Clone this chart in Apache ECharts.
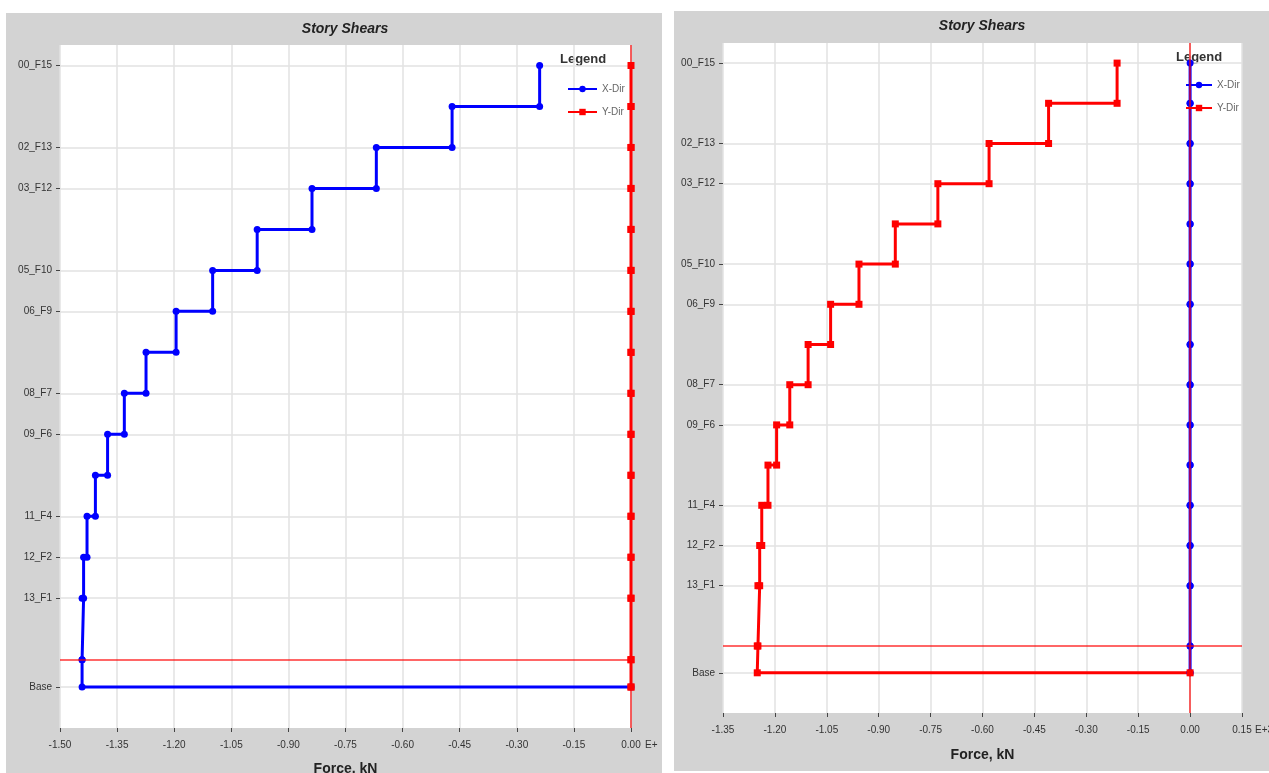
<!DOCTYPE html>
<html><head><meta charset="utf-8">
<script src="https://cdn.jsdelivr.net/npm/echarts@6/dist/echarts.min.js"></script>
<style>
html,body{margin:0;padding:0;background:#fff;width:1269px;height:773px;overflow:hidden}
#chart{position:absolute;left:0;top:0;width:1269px;height:773px}
.panel{position:absolute;background:#d3d3d3}
</style></head><body>
<div class="panel" style="left:6px;top:13px;width:656px;height:760px"></div>
<div class="panel" style="left:674px;top:11px;width:595px;height:760px"></div>
<div id="chart"></div>
<script>
// Story levels (top to bottom) and their elevations (m)
const levelLabels = ['00_F15','','02_F13','03_F12','','05_F10','06_F9','','08_F7','09_F6','','11_F4','12_F2','13_F1','','Base'];
const levelElevations = [45.5,42.5,39.5,36.5,33.5,30.5,27.5,24.5,21.5,18.5,15.5,12.5,9.5,6.5,2.0,0];
const referenceLevelElevation = 2.0;
const baseShear = 0;

// Story shears (E+3 kN), one value per story from top
const leftXDir = [-0.240,-0.470,-0.669,-0.838,-0.982,-1.099,-1.195,-1.274,-1.331,-1.375,-1.407,-1.429,-1.438,-1.442,-1.442];
const leftYDir = [0,0,0,0,0,0,0,0,0,0,0,0,0,0,0];
const rightXDir = [0,0,0,0,0,0,0,0,0,0,0,0,0,0,0];
const rightYDir = [-0.211,-0.409,-0.581,-0.729,-0.852,-0.957,-1.039,-1.104,-1.157,-1.195,-1.220,-1.238,-1.244,-1.249,-1.251];

// Force axis ranges: [min, max, interval]
const leftForceAxis = [-1.50, 0.00, 0.15];
const rightForceAxis = [-1.35, 0.15, 0.15];
const elevationAxis = [-3, 47];

const FONT = 'Liberation Sans, Arial, sans-serif';

function stepData(vals) {
  const out = [];
  for (let i = 0; i < vals.length; i++) {
    out.push([vals[i], levelElevations[i]]);
    out.push([vals[i], levelElevations[i + 1]]);
  }
  out.push([baseShear, levelElevations[levelElevations.length - 1]]);
  return out;
}
const labeledElev = levelElevations.filter((e, i) => levelLabels[i] !== '');
function yLabel(v) {
  const i = levelElevations.findIndex(e => Math.abs(e - v) < 1e-6);
  return i >= 0 ? levelLabels[i] : '';
}
function xLabel(v) {
  return Math.abs(v) < 1e-9 ? '0.00' : v.toFixed(2);
}

const grids = [
  {left: 60, top: 45, width: 571, height: 683, show: true, backgroundColor: '#fff', borderWidth: 0, containLabel: false, outerBoundsMode: 'none'},
  {left: 723, top: 43, width: 519, height: 670, show: true, backgroundColor: '#fff', borderWidth: 0, containLabel: false, outerBoundsMode: 'none'}
];

function xAxisOpt(idx, rng, gap) {
  return {
    type: 'value', gridIndex: idx, min: rng[0], max: rng[1], interval: rng[2],
    name: 'Force, kN', nameLocation: 'middle', nameGap: gap,
    nameTextStyle: {fontFamily: FONT, fontSize: 14, fontWeight: 'bold', color: '#222'},
    axisLine: {show: false, onZero: false},
    axisTick: {show: true, length: 4, lineStyle: {color: '#444'}},
    axisLabel: {fontFamily: FONT, fontSize: 10, color: '#333', margin: 12, formatter: xLabel, showMinLabel: true, showMaxLabel: true},
    splitLine: {show: true, lineStyle: {color: '#e2e2e2', width: 1.5}}
  };
}
function yAxisOpt(idx) {
  return {
    type: 'value', gridIndex: idx, min: elevationAxis[0], max: elevationAxis[1],
    axisLine: {show: false, onZero: false},
    axisTick: {show: true, length: 4, lineStyle: {color: '#444'}, customValues: labeledElev},
    axisLabel: {fontFamily: FONT, fontSize: 10, color: '#333', margin: 8, customValues: labeledElev, formatter: yLabel},
    splitLine: {show: true, lineStyle: {color: '#e2e2e2', width: 1.5}}
  };
}

function refSeries(idx) {
  return {
    name: 'ref', type: 'line', xAxisIndex: idx, yAxisIndex: idx, data: [], silent: true,
    markLine: {
      silent: true, symbol: ['none', 'none'], label: {show: false}, animation: false,
      lineStyle: {color: 'rgba(255,0,0,0.6)', width: 2, type: 'solid'},
      emphasis: {disabled: true},
      data: [{yAxis: referenceLevelElevation}, {xAxis: 0}]
    }
  };
}
function stepSeries(idx, name, vals) {
  const blue = name === 'X-Dir';
  const c = blue ? '#0000ff' : '#ff0000';
  return {
    name: name, type: 'line', xAxisIndex: idx, yAxisIndex: idx,
    data: stepData(vals),
    symbol: blue ? 'circle' : 'rect', symbolSize: 7, showSymbol: true,
    lineStyle: {color: c, width: 3},
    itemStyle: {color: c},
    emphasis: {disabled: true}
  };
}

const chart = echarts.init(document.getElementById('chart'), null, {renderer: 'canvas'});
chart.setOption({
  backgroundColor: 'transparent',
  animation: false,
  grid: grids,
  xAxis: [xAxisOpt(0, leftForceAxis, 34), xAxisOpt(1, rightForceAxis, 35)],
  yAxis: [yAxisOpt(0), yAxisOpt(1)],
  legend: [
    {data: ['X-Dir', 'Y-Dir'], orient: 'vertical', left: 562, top: 79, itemWidth: 29, itemHeight: 8, itemGap: 13,
     textStyle: {fontFamily: FONT, fontSize: 10, color: '#666'}, selectedMode: false},
    {data: ['X-Dir', 'Y-Dir'], orient: 'vertical', left: 1180, top: 75, itemWidth: 26, itemHeight: 8, itemGap: 13,
     textStyle: {fontFamily: FONT, fontSize: 10, color: '#666'}, selectedMode: false}
  ],
  graphic: [
    {type: 'text', x: 345, y: 29, style: {text: 'Story Shears', fontFamily: FONT, fontSize: 14, fontWeight: 'bold', fontStyle: 'italic', fill: '#222', align: 'center', verticalAlign: 'middle'}},
    {type: 'text', x: 982, y: 26, style: {text: 'Story Shears', fontFamily: FONT, fontSize: 14, fontWeight: 'bold', fontStyle: 'italic', fill: '#222', align: 'center', verticalAlign: 'middle'}},
    {type: 'text', x: 560, y: 59, style: {text: 'Legend', fontFamily: FONT, fontSize: 13, fontWeight: 'bold', fill: '#333', align: 'left', verticalAlign: 'middle'}},
    {type: 'text', x: 1176, y: 57, style: {text: 'Legend', fontFamily: FONT, fontSize: 13, fontWeight: 'bold', fill: '#333', align: 'left', verticalAlign: 'middle'}},
    {type: 'text', x: 645, y: 745, style: {text: 'E+3', fontFamily: FONT, fontSize: 10, fill: '#333', align: 'left', verticalAlign: 'middle', width: 17, overflow: 'truncate', ellipsis: ''}},
    {type: 'text', x: 1255, y: 730, style: {text: 'E+3', fontFamily: FONT, fontSize: 10, fill: '#333', align: 'left', verticalAlign: 'middle'}}
  ],
  series: [
    refSeries(0),
    stepSeries(0, 'X-Dir', leftXDir),
    stepSeries(0, 'Y-Dir', leftYDir),
    refSeries(1),
    stepSeries(1, 'X-Dir', rightXDir),
    stepSeries(1, 'Y-Dir', rightYDir)
  ]
});
</script>
</body></html>
